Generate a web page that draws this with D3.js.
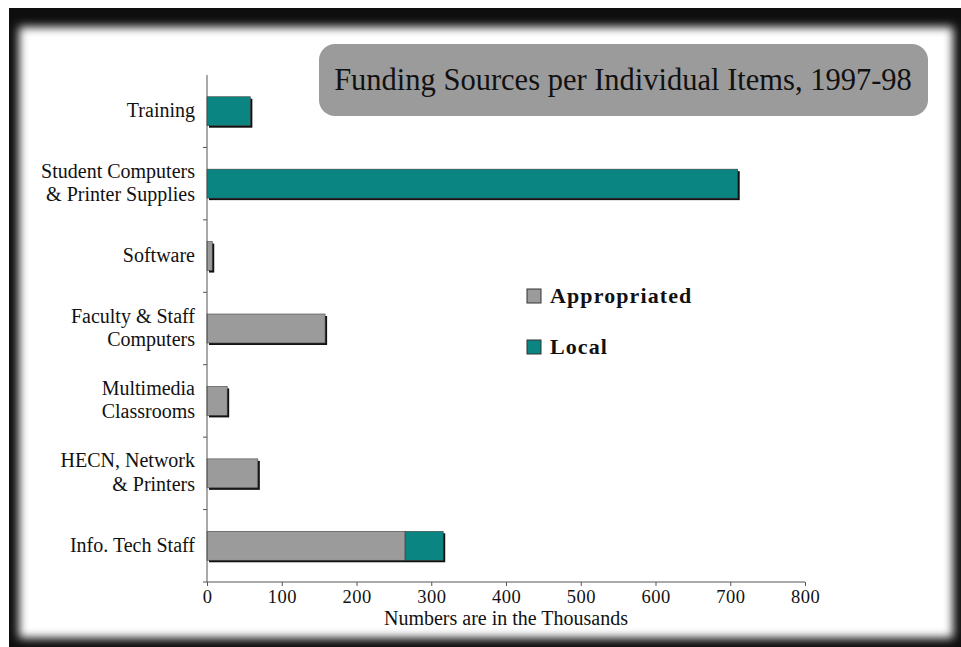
<!DOCTYPE html>
<html>
<head>
<meta charset="utf-8">
<script src="https://cdn.jsdelivr.net/npm/d3@7"></script>
<style>
  body { margin: 0; background: #fff; }
  svg { display: block; }
  text { font-family: "Liberation Serif", "Times New Roman", serif; fill: #111; }
</style>
</head>
<body>
<div id="vis"></div>
<script>
const frame_width = 961;
const frame_height = 647;
const margins = {left: 207, right: 156, top: 75, bottom: 65};

// chart data, top to bottom
const categories = ["Training", "Student Computers & Printer Supplies", "Software",
    "Faculty & Staff Computers", "Multimedia Classrooms", "HECN, Network & Printers", "Info. Tech Staff"];
const label_lines = [["Training"], ["Student Computers", "& Printer Supplies"], ["Software"],
    ["Faculty & Staff", "Computers"], ["Multimedia", "Classrooms"], ["HECN, Network", "& Printers"], ["Info. Tech Staff"]];
const appropriated = [0, 0, 7, 158, 27, 68, 265];
const local = [58, 710, 0, 0, 0, 0, 51];
const series_names = ["Appropriated", "Local"];
const series_colors = ["#9b9b9b", "#0a8582"];
const x_ticks = [0, 100, 200, 300, 400, 500, 600, 700, 800];
const title = "Funding Sources per Individual Items, 1997-98";
const x_title = "Numbers are in the Thousands";

const svg = d3.select("#vis")
    .append("svg")
        .attr("width", frame_width)
        .attr("height", frame_height);

// dark photo frame with soft inner edge
const defs = svg.append("defs");
defs.append("filter")
    .attr("id", "soft")
    .attr("x", "-5%").attr("y", "-5%").attr("width", "110%").attr("height", "110%")
    .append("feGaussianBlur")
        .attr("stdDeviation", 5);

svg.append("rect")
    .attr("x", 9).attr("y", 8)
    .attr("width", frame_width - 9).attr("height", frame_height - 8)
    .attr("fill", "#0e0e0e");

svg.append("rect")
    .attr("x", 19).attr("y", 27)
    .attr("width", 934).attr("height", 611)
    .attr("fill", "#fff")
    .attr("filter", "url(#soft)");

// title box
svg.append("rect")
    .attr("x", 319).attr("y", 44)
    .attr("width", 609).attr("height", 72)
    .attr("rx", 16).attr("ry", 16)
    .attr("fill", "#9b9b9b");

svg.append("text")
    .attr("x", 623).attr("y", 90)
    .attr("text-anchor", "middle")
    .attr("font-size", "30.5px")
    .text(title);

const x_scale = d3.scaleLinear()
    .domain([0, 800])
    .range([margins.left, frame_width - margins.right]);

const y_scale = d3.scaleBand()
    .domain(categories)
    .range([margins.top, frame_height - margins.bottom])
    .paddingInner(0.6)
    .paddingOuter(0.3);

// stacked values
const rows = categories.map((c, i) => ({category: c, appropriated: appropriated[i], local: local[i]}));
const stacked = d3.stack().keys(["appropriated", "local"])(rows);
const totals = rows.map((d) => d.appropriated + d.local);

// drop shadows behind each bar
svg.selectAll(".shadow")
    .data(rows)
    .enter()
    .append("rect")
        .attr("class", "shadow")
        .attr("x", x_scale(0) + 2)
        .attr("y", (d) => y_scale(d.category) + 2)
        .attr("width", (d, i) => x_scale(totals[i]) - x_scale(0))
        .attr("height", y_scale.bandwidth())
        .attr("fill", "#111");

svg.selectAll(".layer")
    .data(stacked)
    .enter()
    .append("g")
        .attr("fill", (d, i) => series_colors[i])
    .selectAll("rect")
    .data((d) => d.filter((s) => s[1] - s[0] > 0))
    .enter()
    .append("rect")
        .attr("x", (d) => x_scale(d[0]))
        .attr("y", (d) => y_scale(d.data.category))
        .attr("width", (d) => x_scale(d[1]) - x_scale(d[0]))
        .attr("height", y_scale.bandwidth())
        .attr("stroke", "#444")
        .attr("stroke-width", 0.6);

// x axis
const x_axis = svg.append("g")
    .attr("transform", "translate(0," + (frame_height - margins.bottom) + ")")
    .call(d3.axisBottom(x_scale).tickValues(x_ticks).tickSize(4).tickSizeOuter(0).tickPadding(4));
x_axis.select(".domain").attr("stroke", "#555").attr("d", "M" + (margins.left - 4) + ",0H" + x_scale(800));
x_axis.selectAll(".tick line").attr("stroke", "#555");
x_axis.selectAll(".tick text")
    .attr("font-family", "Liberation Serif, serif")
    .attr("font-size", "18.5px")
    .attr("letter-spacing", "0.5px")
    .attr("fill", "#111");

svg.append("text")
    .attr("x", (x_scale(0) + x_scale(800)) / 2)
    .attr("y", 625)
    .attr("text-anchor", "middle")
    .attr("font-size", "20px")
    .text(x_title);

// y axis line and separator ticks
svg.append("line")
    .attr("x1", x_scale(0)).attr("x2", x_scale(0))
    .attr("y1", margins.top).attr("y2", frame_height - margins.bottom)
    .attr("stroke", "#555");

const step = y_scale.step();
svg.selectAll(".ysep")
    .data(categories.slice(1))
    .enter()
    .append("line")
        .attr("x1", x_scale(0) - 4).attr("x2", x_scale(0))
        .attr("y1", (d) => y_scale(d) - (step - y_scale.bandwidth()) / 2)
        .attr("y2", (d) => y_scale(d) - (step - y_scale.bandwidth()) / 2)
        .attr("stroke", "#555");

// category labels
const labels = svg.selectAll(".ylabel")
    .data(categories)
    .enter()
    .append("text")
        .attr("text-anchor", "end")
        .attr("font-size", "20px")
        .attr("y", (d) => y_scale(d) + y_scale.bandwidth() / 2);

labels.selectAll("tspan")
    .data((d, i) => label_lines[i].map((t, j, arr) => ({t: t, j: j, n: arr.length})))
    .enter()
    .append("tspan")
        .attr("x", 195)
        .attr("dy", (d) => d.j === 0 ? (d.n === 1 ? 6 : -6) : 23.5)
        .text((d) => d.t);

// legend
const legend = svg.selectAll(".legend")
    .data(series_names)
    .enter()
    .append("g")
        .attr("transform", (d, i) => "translate(527," + (289 + i * 51) + ")");

legend.append("rect")
    .attr("width", 14).attr("height", 14)
    .attr("fill", (d, i) => series_colors[i])
    .attr("stroke", "#333")
    .attr("stroke-width", 1);

legend.append("text")
    .attr("x", 23).attr("y", 14)
    .attr("font-size", "22px")
    .attr("font-weight", "bold")
    .attr("letter-spacing", "1.1px")
    .text((d) => d);
</script>
</body>
</html>
